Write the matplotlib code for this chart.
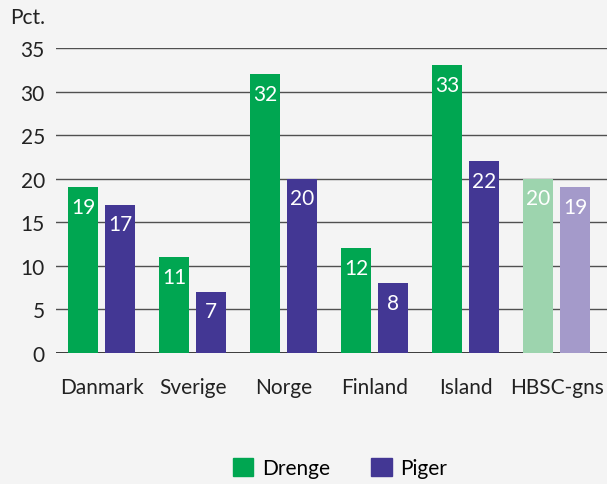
import matplotlib.pyplot as plt
import numpy as np
from matplotlib.patches import Patch

plt.rcParams['font.family'] = ['Lato', 'DejaVu Sans']

lande = ['Danmark', 'Sverige', 'Norge', 'Finland', 'Island', 'HBSC-gns']
drenge = [19, 11, 32, 12, 33, 20]
piger = [17, 7, 20, 8, 22, 19]

groen = '#00a651'
lilla = '#433794'
groen_lys = '#9dd4ae'
lilla_lys = '#a49aca'
bg = '#f4f4f4'

fig = plt.figure(figsize=(6.07, 4.85), dpi=100, facecolor=bg)
ax = fig.add_axes([56/607, 1 - 354/485, 1 - 56/607, (354 - 49)/485])
ax.set_facecolor(bg)

x = np.arange(len(lande))
w = 0.33
off = 0.203
c_d = [groen] * 5 + [groen_lys]
c_p = [lilla] * 5 + [lilla_lys]
b1 = ax.bar(x - off, drenge, w, color=c_d, zorder=3)
b2 = ax.bar(x + off, piger, w, color=c_p, zorder=3)

for bars, vals in ((b1, drenge), (b2, piger)):
    for b, v in zip(bars, vals):
        ax.annotate(str(v), (b.get_x() + b.get_width() / 2, v),
                    xytext=(0, -14), textcoords='offset points',
                    ha='center', va='center', color='white', fontsize=15, zorder=4)

ax.set_ylim(0, 35)
ax.set_xlim(-0.5, 5.55)
ax.set_yticks(range(0, 36, 5))
ax.set_xticks(x)
ax.set_xticklabels(lande)
ax.yaxis.grid(True, color='#505050', linewidth=1)
ax.axhline(0, color='#222222', linewidth=1.2, zorder=2)
ax.set_axisbelow(True)
for s in ax.spines.values():
    s.set_visible(False)
ax.tick_params(axis='both', length=0, labelsize=15, colors='#222222')
ax.tick_params(axis='x', pad=17)
ax.tick_params(axis='y', pad=8)

fig.text(10/607, 1 - 18/485, 'Pct.', fontsize=15, color='#222222', va='center')

handles = [Patch(color=groen, label='Drenge'), Patch(color=lilla, label='Piger')]
fig.legend(handles=handles, loc='center', bbox_to_anchor=(340/607, 1 - 469/485),
           ncol=2, frameon=False, fontsize=15, handlelength=1.0, handleheight=1.0,
           columnspacing=2.0, handletextpad=0.4)

fig.savefig('out.png', dpi=100, facecolor=bg)
